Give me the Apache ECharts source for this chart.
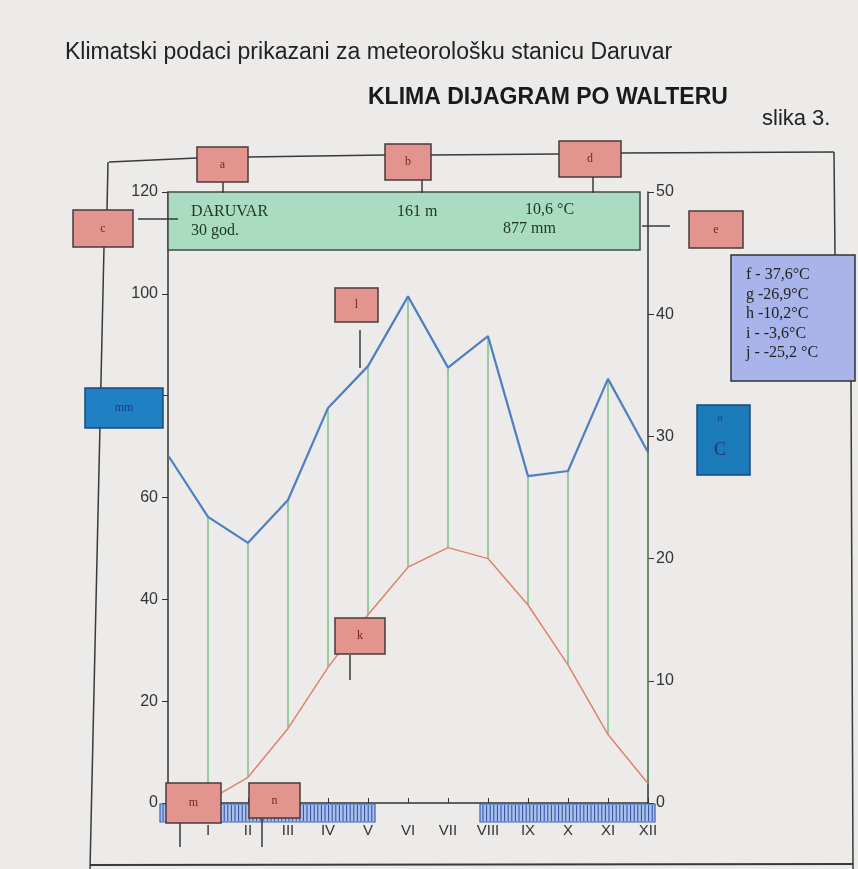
<!DOCTYPE html>
<html><head><meta charset="utf-8">
<script src="https://cdn.jsdelivr.net/npm/echarts@6/dist/echarts.min.js"></script>
<style>html,body{margin:0;padding:0;background:#ecebe9}#c{width:858px;height:869px}</style>
</head><body><div id="c"></div>
<script>
// ---- data ----
const monthLabels = ['', 'I','II','III','IV','V','VI','VII','VIII','IX','X','XI','XII'];
const precipPos   = [0, 1, 2, 3, 4, 5, 6, 7, 8, 9, 10, 11, 12];
const precipMm    = [68.3, 56.2, 51.1, 59.5, 77.6, 85.8, 99.5, 85.5, 91.7, 64.2, 65.2, 83.3, 68.9];
const tempPos     = [1, 2, 3, 4, 5, 6, 7, 8, 9, 10, 11, 12];
const tempC       = [0.2, 2.1, 6.1, 11.1, 15.4, 19.3, 20.9, 20.0, 16.2, 11.3, 5.6, 1.6];
const frostStart  = [0, 8];
const frostEnd    = [5, 12];
const mmTicks     = [0, 20, 40, 60, 80, 100, 120];
const cTicks      = [0, 10, 20, 30, 40, 50];
const stationInfo = ['DARUVAR', '30 god.', '161 m', '10,6 °C', '877 mm'];
const extremes    = ['f - 37,6°C', 'g -26,9°C', 'h -10,2°C', 'i - -3,6°C', 'j - -25,2 °C'];

const MM_MAX = mmTicks[mmTicks.length - 1];
const C_MAX = cTicks[cTicks.length - 1];

const precipData = precipPos.map((x, i) => [x, precipMm[i]]);
const tempData = tempPos.map((x, i) => [x, tempC[i]]);
const humidData = tempPos.map((x, i) => [x, precipMm[precipPos.indexOf(x)], tempC[i]]);
const frostData = frostStart.map((s, i) => [s, frostEnd[i]]);

const serif = '"Liberation Serif", "DejaVu Serif", serif';
const sans = '"Liberation Sans", Arial, sans-serif';

function redBox(x, y, w, h, label) {
  return [
    {type:'rect', z:50, shape:{x, y, width:w, height:h}, style:{fill:'#e3948f', stroke:'#4a3a3a', lineWidth:1.5}},
    {type:'text', z:51, x:x + w/2, y:y + h/2, style:{text:label, fill:'#7a1f1f', font:'12px ' + serif, align:'center', verticalAlign:'middle'}}
  ];
}
function seg(x1, y1, x2, y2, w) {
  return {type:'line', z:40, shape:{x1, y1, x2, y2}, style:{stroke:'#3a3a3a', lineWidth:w || 1.5}};
}

const hdrFont = '16px ' + serif;
const graphics = [].concat(
  // outer frame
  seg(109,162,197,158), seg(248,157,385,155), seg(431,155,559,154), seg(621,153,834,152),
  seg(834,152,835,255), seg(851,381,853,869),
  seg(108,162,107,210), seg(104,247,90,869), seg(90,865,853,864, 2),
  // axis continuation below the x axis
  seg(168,803,167,822, 1.5),
  // pointer lines
  seg(223,182,223,193), seg(422,180,422,193), seg(593,177,593,193),
  seg(138,219,178,219), seg(642,226,670,226),
  seg(360,330,360,368), seg(350,655,350,680), seg(180,823,180,847), seg(262,818,262,847),
  // header box
  [{type:'rect', z:20, shape:{x:168, y:192, width:472, height:58}, style:{fill:'#a9dcc0', stroke:'#4a4a4a', lineWidth:1.5}},
   {type:'text', z:21, x:191, y:212, style:{text:stationInfo[0], fill:'#1f3526', font:hdrFont, verticalAlign:'middle'}},
   {type:'text', z:21, x:191, y:231, style:{text:stationInfo[1], fill:'#1f3526', font:hdrFont, verticalAlign:'middle'}},
   {type:'text', z:21, x:397, y:212, style:{text:stationInfo[2], fill:'#1f3526', font:hdrFont, verticalAlign:'middle'}},
   {type:'text', z:21, x:525, y:210, style:{text:stationInfo[3], fill:'#1f3526', font:hdrFont, verticalAlign:'middle'}},
   {type:'text', z:21, x:503, y:229, style:{text:stationInfo[4], fill:'#1f3526', font:hdrFont, verticalAlign:'middle'}}],
  redBox(197,147,51,35,'a'), redBox(385,144,46,36,'b'), redBox(73,210,60,37,'c'),
  redBox(559,141,62,36,'d'), redBox(689,211,54,37,'e'),
  redBox(335,288,43,34,'l'), redBox(335,618,50,36,'k'),
  redBox(166,783,55,40,'m'), redBox(249,783,51,35,'n'),
  // blue boxes
  [{type:'rect', z:50, shape:{x:85, y:388, width:78, height:40}, style:{fill:'#1f80c4', stroke:'#1b4a78', lineWidth:1.5}},
   {type:'text', z:51, x:124, y:408, style:{text:'mm', fill:'#1d3a8a', font:'12px ' + serif, align:'center', verticalAlign:'middle'}},
   {type:'rect', z:50, shape:{x:697, y:405, width:53, height:70}, style:{fill:'#1b7aba', stroke:'#1b4a78', lineWidth:1.5}},
   {type:'text', z:51, x:720, y:418, style:{text:'o', fill:'#1d3a6a', font:'10px ' + serif, align:'center', verticalAlign:'middle'}},
   {type:'text', z:51, x:720, y:450, style:{text:'C', fill:'#1d3a6a', font:'18px ' + serif, align:'center', verticalAlign:'middle'}},
   // lavender box
   {type:'rect', z:50, shape:{x:731, y:255, width:124, height:126}, style:{fill:'#a9b5ea', stroke:'#333', lineWidth:1.5}}],
  extremes.map((t, i) => ({type:'text', z:51, x:746, y:275 + i*19.5, style:{text:t, fill:'#222', font:'16px ' + serif, verticalAlign:'middle'}}))
);

const chart = echarts.init(document.getElementById('c'));
chart.setOption({
  backgroundColor:'#ecebe9',
  animation:false,
  title:[
    {text:'Klimatski podaci prikazani za meteorološku stanicu Daruvar', left:60, top:36,
     textStyle:{fontFamily:sans, fontSize:23, fontWeight:'normal', color:'#222'}},
    {text:'KLIMA DIJAGRAM PO WALTERU', left:363, top:81,
     textStyle:{fontFamily:sans, fontSize:23, fontWeight:'bold', color:'#1a1a1a'}},
    {text:'slika 3.', left:757, top:103,
     textStyle:{fontFamily:sans, fontSize:22, fontWeight:'normal', color:'#222'}}
  ],
  grid:{left:168, right:210, top:192, bottom:66},
  xAxis:{type:'value', min:0, max:12, interval:1,
    axisLine:{lineStyle:{color:'#333', width:1.5}},
    axisTick:{inside:true, length:5, lineStyle:{color:'#333'}},
    axisLabel:{margin:20, fontFamily:sans, fontSize:15, color:'#333', formatter:v => monthLabels[v] || ''},
    splitLine:{show:false}},
  yAxis:[
    {type:'value', min:0, max:MM_MAX, interval:20, position:'left',
     axisLine:{show:true, lineStyle:{color:'#333', width:1.5}},
     axisTick:{show:true, length:6, lineStyle:{color:'#333'}},
     axisLabel:{margin:10, fontFamily:sans, fontSize:16, color:'#333'},
     splitLine:{show:false}},
    {type:'value', min:0, max:C_MAX, interval:10, position:'right',
     axisLine:{show:true, lineStyle:{color:'#333', width:1.5}},
     axisTick:{show:true, length:6, inside:false, lineStyle:{color:'#333'}},
     axisLabel:{margin:8, fontFamily:sans, fontSize:16, color:'#333'},
     splitLine:{show:false}}
  ],
  graphic:graphics,
  series:[
    {type:'custom', name:'humid', xAxisIndex:0, yAxisIndex:0, z:2, data:humidData,
     renderItem:(params, api) => {
       const x = api.value(0);
       const a = api.coord([x, api.value(1)]);
       const b = api.coord([x, api.value(2) * MM_MAX / C_MAX]);
       return {type:'line', shape:{x1:a[0], y1:a[1], x2:b[0], y2:b[1]}, style:{stroke:'#5fb86a', lineWidth:1.2}};
     }},
    {type:'custom', name:'frost', xAxisIndex:0, yAxisIndex:0, z:3, clip:false, data:frostData,
     renderItem:(params, api) => {
       const s = api.value(0), e = api.value(1);
       const p0 = api.coord([s, 0]), p1 = api.coord([e, 0]);
       const x0 = p0[0] - 8, x1 = p1[0] + 7, y0 = p0[1] + 1, h = 18;
       const children = [{type:'rect', shape:{x:x0, y:y0, width:x1 - x0, height:h}, style:{fill:'#a8c2ec', stroke:'#3a5fb0', lineWidth:1.2}}];
       for (let x = x0 + 3; x < x1 - 1; x += 3.6) {
         children.push({type:'line', shape:{x1:x, y1:y0 + 1, x2:x, y2:y0 + h - 1}, style:{stroke:'#2d4c9e', lineWidth:1}});
       }
       return {type:'group', children};
     }},
    {type:'line', name:'precip', yAxisIndex:0, data:precipData, symbol:'none', z:5,
     lineStyle:{color:'#4f7ec2', width:2.2}},
    {type:'line', name:'temp', yAxisIndex:1, data:tempData, symbol:'none', z:5,
     lineStyle:{color:'#e0806f', width:1.5}}
  ]
});
</script></body></html>
